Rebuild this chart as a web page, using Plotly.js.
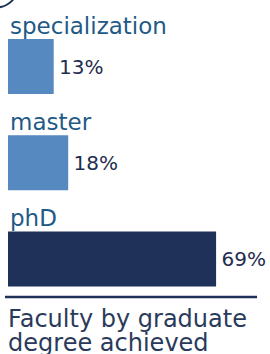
<!DOCTYPE html>
<html>
<head>
<meta charset="utf-8">
<script src="https://cdn.plot.ly/plotly-3.0.1.min.js"></script>
<style>html,body{margin:0;padding:0;background:#fff;}#chart{width:270px;height:354px;}</style>
</head>
<body>
<div id="chart"></div>
<script>
var categories = ['specialization', 'master', 'phD'];
var shares = [13, 18, 69];
var barColors = ['#5689bf', '#5689bf', '#1f3158'];
var valueLabels = ['13%', '18%', '69%'];
var titleLines = ['Faculty by graduate', 'degree achieved'];

var FONT = '"DejaVu Sans", sans-serif';

var trace = {
  type: 'bar',
  orientation: 'h',
  y: categories,
  x: shares,
  width: 0.49,
  marker: {color: barColors, line: {color: barColors, width: 8}},
  text: valueLabels,
  texttemplate: '\u00a0%{text}',
  textposition: 'outside',
  cliponaxis: false,
  textfont: {family: FONT, size: 20, color: '#1f2d50'},
  hoverinfo: 'none'
};

var annotations = categories.map(function (c) {
  return {
    xref: 'paper', yref: 'y', x: 0.03, y: c,
    xanchor: 'left', yanchor: 'middle', yshift: 41,
    text: c, showarrow: false,
    font: {family: FONT, size: 23, color: '#1f5a87'}
  };
});

var titleText = titleLines.map(function (t) {
  return '<span style="font-size:24px">' + t + '</span>';
}).join('<br>');

var layout = {
  width: 270, height: 354,
  margin: {l: 0, r: 0, t: 0, b: 0},
  paper_bgcolor: '#ffffff', plot_bgcolor: '#ffffff',
  showlegend: false,
  title: {
    text: titleText,
    x: 0.03, xanchor: 'left', xref: 'paper',
    y: 0.076, yanchor: 'bottom', yref: 'container',
    font: {family: FONT, size: 18.4, color: '#2a3a5a'}
  },
  xaxis: {range: [-4.138, 88.97], visible: false, fixedrange: true},
  yaxis: {type: 'category', categoryorder: 'array', categoryarray: categories,
          range: [2.987, -0.691], visible: false, fixedrange: true},
  bargap: 0,
  annotations: annotations,
  shapes: [
    {type: 'line', xref: 'paper', yref: 'paper', x0: 0.0185, x1: 0.952,
     y0: 0.161, y1: 0.161, line: {color: '#1f3158', width: 2.5}},
    {type: 'circle', xref: 'paper', yref: 'paper', x0: -0.098, x1: 0.0685,
     y0: 0.979, y1: 1.106, line: {color: '#1f3158', width: 2}}
  ]
};

Plotly.newPlot('chart', [trace], layout, {staticPlot: true, displayModeBar: false});
</script>
</body>
</html>
